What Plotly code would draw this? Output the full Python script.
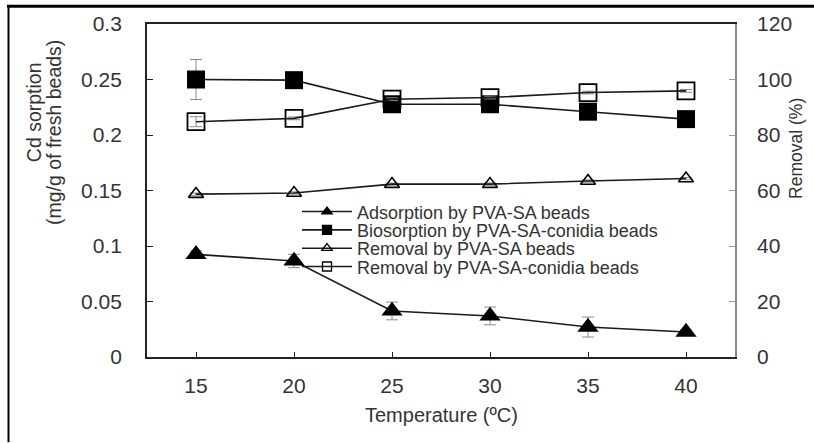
import plotly.graph_objects as go

temperature = [15, 20, 25, 30, 35, 40]

adsorption_pva_sa = [0.0925, 0.0865, 0.0415, 0.037, 0.027, 0.0225]
adsorption_err = [0.003, 0.006, 0.008, 0.008, 0.009, 0.002]

biosorption_conidia = [0.250, 0.2494, 0.2277, 0.2277, 0.221, 0.2143]
biosorption_err = [0.018, 0.002, 0.003, 0.003, 0.003, 0.002]

removal_pva_sa = [58.7, 59.1, 62.3, 62.3, 63.4, 64.3]
removal_pva_sa_err = [0.4, 0.4, 0.4, 0.4, 0.4, 0.4]

removal_conidia = [84.8, 86.0, 92.9, 93.5, 95.3, 95.9]
removal_conidia_err = [1.8, 0.5, 0.5, 0.5, 0.5, 0.5]

legend_names = [
    "Adsorption by PVA-SA beads",
    "Biosorption by PVA-SA-conidia beads",
    "Removal by PVA-SA beads",
    "Removal by PVA-SA-conidia beads",
]

FONT = "Liberation Sans, Arial, sans-serif"
TXT = "#333333"
LINE = dict(color="#1a1a1a", width=1.6)
ERR = dict(type="data", thickness=1, width=6, color="#8a8a8a")

fig = go.Figure()

fig.add_trace(go.Scatter(
    x=temperature, y=adsorption_pva_sa, mode="lines+markers", line=LINE,
    marker=dict(symbol="triangle-up", size=18.5, color="black"),
    error_y=dict(array=adsorption_err, **ERR), showlegend=False))
fig.add_trace(go.Scatter(
    x=temperature, y=biosorption_conidia, mode="lines+markers", line=LINE,
    marker=dict(symbol="square", size=18, color="black"),
    error_y=dict(array=biosorption_err, **ERR), showlegend=False))
fig.add_trace(go.Scatter(
    x=temperature, y=removal_pva_sa, yaxis="y2", mode="lines+markers", line=LINE,
    marker=dict(symbol="triangle-up-open", size=13, color="black", line=dict(width=1.6)),
    error_y=dict(array=removal_pva_sa_err, **ERR), showlegend=False))
fig.add_trace(go.Scatter(
    x=temperature, y=removal_conidia, yaxis="y2", mode="lines+markers", line=LINE,
    marker=dict(symbol="square-open", size=17, color="black", line=dict(width=1.8)),
    error_y=dict(array=removal_conidia_err, **ERR), showlegend=False))

legend_symbols = ["triangle-up", "square", "triangle-up-open", "square-open"]
legend_ids = ["legend", "legend2", "legend3", "legend4"]
legend_rows = [210.5, 229, 247.5, 266]   # pixel centres of legend rows

for name, sym, lid in zip(legend_names, legend_symbols, legend_ids):
    fig.add_trace(go.Scatter(
        x=[None], y=[None], mode="lines+markers", name=name, line=LINE, legend=lid,
        marker=dict(symbol=sym, size=9, color="black", line=dict(width=1.3, color="black"))))

PLOT_L, PLOT_R, PLOT_T, PLOT_B = 147, 735, 21, 357
def px_x(p):
    return (p - PLOT_L) / (PLOT_R - PLOT_L)
def px_y(p):
    return (PLOT_B - p) / (PLOT_B - PLOT_T)

legend_layout = {}
for lid, row in zip(legend_ids, legend_rows):
    legend_layout[lid] = dict(x=px_x(297), y=px_y(row), xanchor="left", yanchor="middle",
                              bgcolor="rgba(0,0,0,0)", font=dict(size=18, color=TXT, family=FONT),
                              itemwidth=50, borderwidth=0)

fig.update_layout(
    width=814, height=443,
    margin=dict(l=PLOT_L, r=814 - PLOT_R, t=PLOT_T, b=443 - PLOT_B),
    paper_bgcolor="white", plot_bgcolor="white",
    font=dict(family=FONT, color=TXT, size=18),
    showlegend=True,
    **legend_layout,
    xaxis=dict(range=[12.5, 42.5], tickvals=temperature,
               ticks="inside", ticklen=5, tickcolor="#222", tickwidth=1.3,
               showline=True, linecolor="#222", linewidth=1.8, mirror=True,
               showgrid=False, zeroline=False, ticklabelstandoff=9,
               tickfont=dict(size=21)),
    yaxis=dict(range=[0, 0.3], tickvals=[0, 0.05, 0.1, 0.15, 0.2, 0.25, 0.3],
               ticktext=["0", "0.05", "0.1", "0.15", "0.2", "0.25", "0.3"],
               ticks="inside", ticklen=6, tickcolor="#222", tickwidth=1.3,
               showline=True, linecolor="#222", linewidth=1.8,
               showgrid=False, zeroline=False, tickfont=dict(size=21),
               ticklabelstandoff=19),
    yaxis2=dict(range=[0, 120], tickvals=[0, 20, 40, 60, 80, 100, 120],
                overlaying="y", side="right",
                ticks="inside", ticklen=6, tickcolor="#999", tickwidth=1.3,
                showline=True, linecolor="#8a8a8a", linewidth=1.8,
                showgrid=False, zeroline=False, tickfont=dict(size=21),
                ticklabelstandoff=16),
    annotations=[
        dict(text="Cd sorption", xref="paper", yref="paper", x=px_x(34), y=px_y(110),
             textangle=-90, showarrow=False, font=dict(size=19.5, color=TXT),
             xanchor="center", yanchor="middle"),
        dict(text="(mg/g of fresh beads)", xref="paper", yref="paper", x=px_x(54), y=px_y(131),
             textangle=-90, showarrow=False, font=dict(size=19.5, color=TXT),
             xanchor="center", yanchor="middle"),
        dict(text="Removal (%)", xref="paper", yref="paper", x=px_x(796), y=px_y(147),
             textangle=-90, showarrow=False, font=dict(size=17.5, color=TXT),
             xanchor="center", yanchor="middle"),
        dict(text="Temperature (ºC)", xref="paper", yref="paper", x=px_x(441), y=px_y(416),
             showarrow=False, font=dict(size=20, color=TXT),
             xanchor="center", yanchor="middle"),
    ],
    shapes=[
        dict(type="line", xref="paper", yref="paper", x0=px_x(7), x1=px_x(814), y0=px_y(3), y1=px_y(3),
             line=dict(color="black", width=3)),
        dict(type="line", xref="paper", yref="paper", x0=px_x(8.5), x1=px_x(8.5), y0=px_y(2), y1=px_y(443),
             line=dict(color="black", width=2)),
    ],
)

fig.write_html("out.html")
